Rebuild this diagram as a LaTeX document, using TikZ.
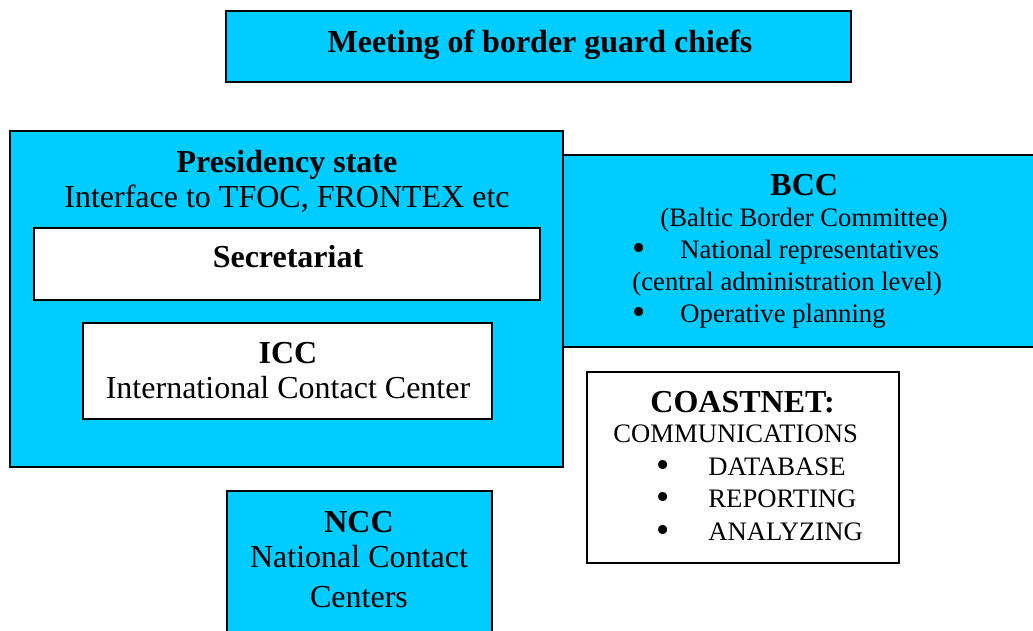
\documentclass[tikz,border=0pt]{standalone}
\usepackage{fontspec}
\setmainfont{Liberation Serif}
\usetikzlibrary{fit}
\definecolor{boxcyan}{RGB}{0,204,255}
\newcommand{\bigtxt}{\fontsize{14.4}{15.75}\selectfont}
\newcommand{\smalltxt}{\fontsize{12}{14.27}\selectfont}
\newcommand{\blt}{\smash{\raisebox{-0.9pt}{\fontsize{17}{17}\selectfont\textbullet}}}

\begin{document}
\begin{tikzpicture}[x=0.45pt, y=-0.45pt,
    cyanbox/.style={draw, line width=0.9pt, fill=boxcyan, inner sep=0pt},
    whitebox/.style={draw, line width=0.9pt, fill=white, inner sep=0pt},
    boxtext/.style={anchor=base, inner sep=0pt, align=center, font=\bigtxt},
    listtext/.style={anchor=base west, inner sep=0pt, align=left, font=\smalltxt}]
        \clip (0,0) rectangle (1033,630);

        % Boxes
        \node[cyanbox, fit={(563,155) (1045,347)}] (bcc) {};
        \node[cyanbox, fit={(10,131) (563,467)}] (presidency) {};
        \node[whitebox, fit={(34,228) (540,300)}] (secretariat) {};
        \node[whitebox, fit={(83,323) (492,419)}] (icc) {};
        \node[cyanbox, fit={(226,11) (851,82)}] (meeting) {};
        \node[whitebox, fit={(587,372) (899,563)}] (coastnet) {};
        \node[cyanbox, fit={(227,491) (492,645)}] (ncc) {};

        % Texts (anchored at the baseline of the last line)
        \node[boxtext] (meetingtxt) at (540,52) {\textbf{Meeting of border guard chiefs}};
        \node[boxtext] (presidencytxt) at (287,207) {\textbf{Presidency state}\\Interface to TFOC, FRONTEX etc};
        \node[boxtext] (secretariattxt) at (288,267) {\textbf{Secretariat}};
        \node[boxtext] (icctxt) at (288,398) {\textbf{ICC}\\International Contact Center};
        \node[boxtext, font=\fontsize{14.4}{16}\selectfont] (ncctxt) at (359,607) {\textbf{NCC}\\National Contact\\[1.7pt]Centers};
        \node[listtext] (bcctxt) at (632,322) {\hspace*{62.1pt}{\bigtxt\textbf{BCC}}\\
            \hspace*{12.6pt}(Baltic Border Committee)\\
            \makebox[21.6pt][l]{\blt}National representatives\\
            (central administration level)\\
            \makebox[21.6pt][l]{\blt}Operative planning};
        \node[listtext, font=\fontsize{12}{14.6}\selectfont] (coastnettxt) at (613,540) {\hspace*{16.65pt}{\bigtxt\textbf{COASTNET:}}\\[-1pt]
            COMMUNICATIONS\\
            \hspace*{19.35pt}\makebox[23.4pt][l]{\blt}DATABASE\\
            \hspace*{19.35pt}\makebox[23.4pt][l]{\blt}REPORTING\\
            \hspace*{19.35pt}\makebox[23.4pt][l]{\blt}ANALYZING};
    \end{tikzpicture}
\end{document}
